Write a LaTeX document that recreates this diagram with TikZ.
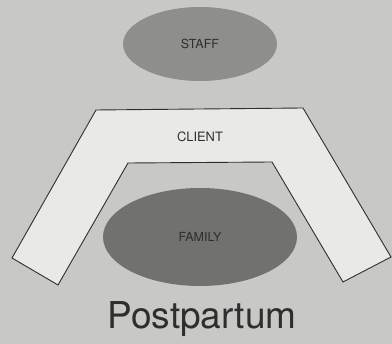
\documentclass[tikz,border=0pt]{standalone}
\usepackage{fontspec}
\setmainfont{TeX Gyre Heros}
\usetikzlibrary{shapes.geometric}
\definecolor{paper}{HTML}{C8C8C6}
\definecolor{bandfill}{HTML}{E9E9E7}
\definecolor{staffgray}{HTML}{8E8E8C}
\definecolor{familygray}{HTML}{71716F}
\definecolor{ink}{HTML}{2E2E2E}

\tikzset{
  blob/.style={ellipse, inner sep=0pt, text=ink, font=\fontsize{12.5}{14}\selectfont},
  band/.style={draw=ink, line width=0.9pt, fill=bandfill, line join=miter}
}

\begin{document}
\begin{tikzpicture}[x=1pt, y=-1pt]
  % Background
  \fill[paper] (0,0) rectangle (392,344);
  \useasboundingbox (0,0) rectangle (392,344);
  % Staff on top
  \node[blob, fill=staffgray, minimum width=154pt, minimum height=74pt] (staff) at (200,44) {STAFF};
  % Client band
  \draw[band] (96,110) -- (303,108) -- (391,257) -- (343,282) -- (272,162)
    -- (128,163) -- (58,285) -- (12,258) -- cycle;
  \node[text=ink, font=\fontsize{12.9}{14}\selectfont] (client) at (200,137) {CLIENT};
  % Family in the middle
  \node[blob, fill=familygray, minimum width=194pt, minimum height=98pt] (family) at (200,237) {FAMILY};
  % Title
  \node[text=ink, font=\fontsize{37}{40}\selectfont, anchor=base] (title) at (202,329) {Postpartum};
\end{tikzpicture}
\end{document}
